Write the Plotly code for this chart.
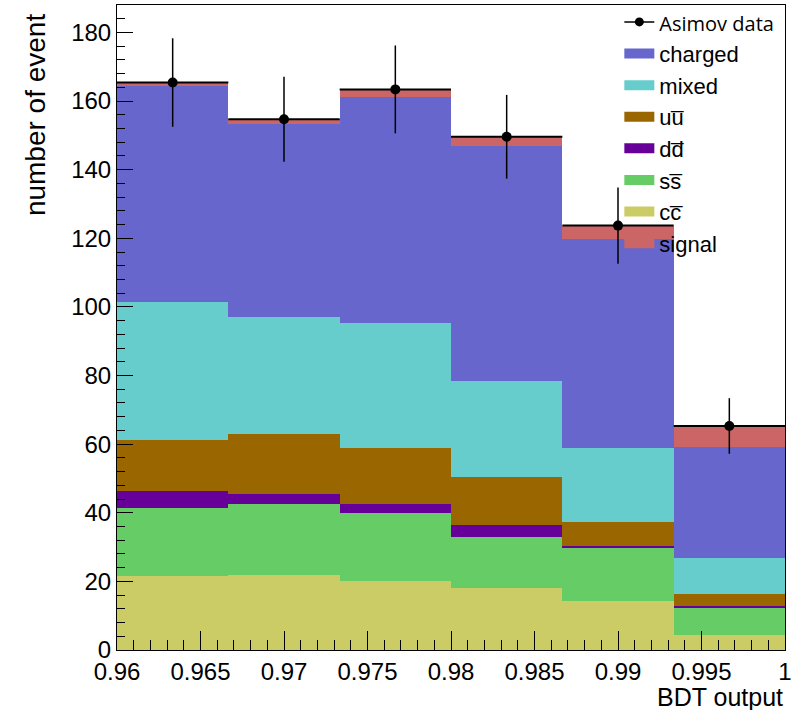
import numpy as np
import plotly.graph_objects as go

# ---- data ----
bin_edges = [0.96, 0.96 + 0.04 / 6, 0.96 + 0.08 / 6, 0.98, 0.96 + 0.16 / 6, 0.96 + 0.20 / 6, 1.0]

cc_vals = [21.6, 21.9, 20.1, 18.0, 14.2, 4.4]
ss_vals = [19.8, 20.8, 19.8, 15.0, 15.4, 7.7]
dd_vals = [4.9, 2.8, 2.8, 3.5, 0.6, 0.6]
uu_vals = [15.0, 17.5, 16.2, 14.0, 7.0, 3.6]
mixed_vals = [40.2, 34.2, 36.3, 27.9, 21.7, 10.4]
charged_vals = [63.0, 56.1, 65.9, 68.4, 60.8, 32.5]
signal_vals = [0.9, 1.4, 2.3, 2.8, 4.0, 6.1]

asimov_vals = [165.4, 154.7, 163.4, 149.6, 123.7, 65.3]
asimov_errs = [12.9, 12.4, 12.8, 12.2, 11.1, 8.1]

x_tickvals = [0.96, 0.965, 0.97, 0.975, 0.98, 0.985, 0.99, 0.995, 1.0]
x_ticktext = ["0.96", "0.965", "0.97", "0.975", "0.98", "0.985", "0.99", "0.995", "1"]
y_tickvals = [0, 20, 40, 60, 80, 100, 120, 140, 160, 180]

# ---- geometry from the bin edges ----
edges = np.array(bin_edges)
centers = (edges[:-1] + edges[1:]) / 2
widths = edges[1:] - edges[:-1]

FONT = "Liberation Sans"

fig = go.Figure()

# legend entry for data (first in legend)
fig.add_trace(go.Scatter(
    x=[None], y=[None], mode="lines+markers",
    name='<span style="font-size:20px;font-family:\'Open Sans\'">Asimov data</span>',
    line=dict(color="black", width=1.5),
    marker=dict(color="black", size=9),
    legendrank=1,
))

# stacked from bottom to top; (name, values, colour, legend rank)
stack = [
    ("cc\u0305", cc_vals, "#cccc66", 7),
    ("ss\u0305", ss_vals, "#66cc66", 6),
    ("dd\u0305", dd_vals, "#660099", 5),
    ("uu\u0305", uu_vals, "#996600", 4),
    ("mixed", mixed_vals, "#66cccc", 3),
    ("charged", charged_vals, "#6666cc", 2),
    ("signal", signal_vals, "#cc6666", 8),
]
for name, vals, col, rank in stack:
    fig.add_trace(go.Bar(
        x=centers, y=vals, width=widths, name=name,
        marker=dict(color=col, line=dict(width=0)),
        showlegend=False,
    ))
    # legend swatch (wide filled box)
    fig.add_trace(go.Scatter(
        x=[centers[0]], y=[None], mode="lines", name=name,
        line=dict(color=col, width=20),
        legendrank=rank,
    ))

# data points
fig.add_trace(go.Scatter(
    x=centers, y=asimov_vals, mode="markers",
    marker=dict(color="black", size=10, symbol="circle"),
    error_y=dict(type="data", array=asimov_errs, color="black", thickness=1.5, width=0),
    error_x=dict(type="data", array=widths / 2, color="black", thickness=2, width=0),
    showlegend=False,
))

fig.update_layout(
    width=811, height=710,
    margin=dict(l=117, r=26, t=5, b=60, autoexpand=False),
    paper_bgcolor="white", plot_bgcolor="white",
    barmode="stack", bargap=0,
    font=dict(family=FONT, size=24, color="black"),
    showlegend=True,
    legend=dict(
        x=0.752, y=1.006, xanchor="left", yanchor="top", traceorder="normal",
        bgcolor="rgba(255,255,255,0)", borderwidth=0,
        font=dict(family=FONT, size=22), tracegroupgap=0, itemsizing="trace",
    ),
    xaxis=dict(
        range=[0.96, 1.0], tickmode="array", tickvals=x_tickvals, ticktext=x_ticktext,
        ticks="inside", ticklen=19, tickwidth=1, tickcolor="black",
        minor=dict(dtick=0.001, tick0=0.96, ticks="inside", ticklen=10, tickcolor="black"),
        showline=True, linecolor="black", linewidth=1, mirror=True,
        showgrid=False, zeroline=False, tickfont=dict(size=24),
    ),
    yaxis=dict(
        range=[0, 188], tickmode="array", tickvals=y_tickvals,
        ticks="inside", ticklen=16, tickwidth=1, tickcolor="black",
        minor=dict(dtick=4, tick0=0, ticks="inside", ticklen=8, tickcolor="black"),
        showline=True, linecolor="black", linewidth=1, mirror=True,
        showgrid=False, zeroline=False, tickfont=dict(size=24),
    ),
    annotations=[
        dict(text="number of event", xref="paper", yref="paper", x=-0.121, y=0.99,
             xanchor="center", yanchor="top", textangle=-90, showarrow=False,
             font=dict(size=28, family=FONT)),
        dict(text="BDT output", xref="paper", yref="paper", x=1.0, y=-0.073,
             xanchor="right", yanchor="middle", showarrow=False,
             font=dict(size=25, family=FONT)),
    ],
)

fig.write_html("out.html")
